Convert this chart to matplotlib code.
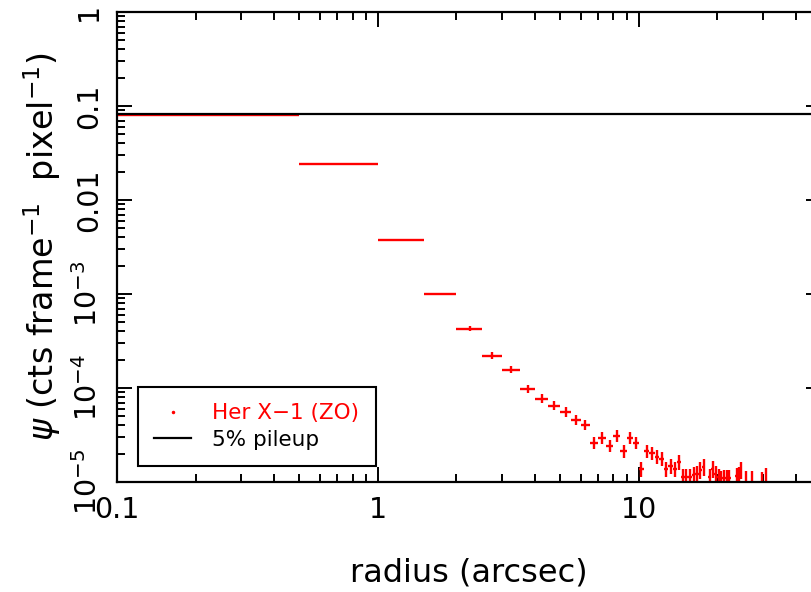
import matplotlib
matplotlib.use('Agg')
import matplotlib.pyplot as plt
import matplotlib.ticker as mticker
from matplotlib.lines import Line2D
import numpy as np

plt.rcParams['font.family'] = ['DejaVu Sans']
plt.rcParams['mathtext.fontset'] = 'dejavusans'

# radial profile of Her X-1 zeroth order, 0.5" bins
radius = [0.25, 0.75, 1.25, 1.75, 2.25, 2.75, 3.25, 3.75, 4.25, 4.75,
          5.25, 5.75, 6.25, 6.75, 7.25, 7.75, 8.25, 8.75, 9.25, 9.75,
          10.25, 10.75, 11.25, 11.75, 12.25, 12.75, 13.25, 13.75, 14.25, 14.75,
          15.25, 15.75, 16.25, 16.75, 17.25, 17.75, 18.75, 19.25, 19.75, 20.25,
          20.75, 21.25, 21.75, 22.25, 23.75, 24.25, 24.75, 25.75, 27.25, 29.75,
          30.75]
radius_err = 0.25
psi = [0.080, 0.0242, 3.72e-3, 1.0e-3, 4.27e-4, 2.21e-4, 1.57e-4, 9.8e-5, 7.7e-5, 6.5e-5,
       5.6e-5, 4.6e-5, 4.07e-5, 2.62e-5, 2.96e-5, 2.43e-5, 3.1e-5, 2.15e-5, 2.96e-5, 2.62e-5,
       1.39e-5, 2.15e-5, 2.05e-5, 1.86e-5, 1.77e-5, 1.39e-5, 1.49e-5, 1.39e-5, 1.64e-5, 1.14e-5,
       1.14e-5, 1.14e-5, 1.19e-5, 1.22e-5, 1.35e-5, 1.46e-5, 1.14e-5, 1.39e-5, 1.22e-5, 1.14e-5,
       1.09e-5, 1.11e-5, 1.11e-5, 1.11e-5, 1.17e-5, 1.19e-5, 1.35e-5, 1.09e-5, 1.09e-5, 1.06e-5,
       1.17e-5]
# fractional 1-sigma errors
psi_frac_err = [0.008, 0.012, 0.025, 0.035, 0.06, 0.08, 0.09, 0.1, 0.11, 0.11,
                0.12, 0.12, 0.13, 0.15, 0.15, 0.15, 0.15, 0.16, 0.15, 0.15,
                0.18, 0.16, 0.16, 0.17, 0.17, 0.18, 0.18, 0.18, 0.18, 0.2,
                0.2, 0.2, 0.2, 0.2, 0.2, 0.2, 0.2, 0.2, 0.2, 0.2,
                0.2, 0.2, 0.2, 0.2, 0.2, 0.2, 0.2, 0.2, 0.2, 0.2,
                0.2]
pileup_level = 0.0825

psi = np.array(psi)
psi_err = psi * np.array(psi_frac_err)

fig = plt.figure(figsize=(8.12, 5.92), dpi=100)
# right spine sits just outside the picture (x = 50)
ax = fig.add_axes([117 / 812, 1 - 482 / 592, (821 - 117) / 812, (482 - 12) / 592])

ax.errorbar(radius, psi, xerr=radius_err, yerr=psi_err, fmt='none',
            ecolor='red', elinewidth=1.7, capsize=0)
ax.axhline(pileup_level, color='black', lw=1.6)

ax.set_xscale('log')
ax.set_yscale('log')
ax.set_xlim(0.1, 50)
ax.set_ylim(1e-5, 1)

ax.xaxis.set_major_locator(mticker.FixedLocator([0.1, 1, 10]))
ax.xaxis.set_major_formatter(mticker.FixedFormatter(['0.1', '1', '10']))
ax.xaxis.set_minor_locator(mticker.LogLocator(base=10, subs=np.arange(2, 10)))
ax.xaxis.set_minor_formatter(mticker.NullFormatter())

ax.yaxis.set_major_locator(mticker.FixedLocator([1e-5, 1e-4, 1e-3, 0.01, 0.1, 1]))
ax.yaxis.set_major_formatter(mticker.FixedFormatter(
    [r'$10^{-5}$', r'$10^{-4}$', r'$10^{-3}$', '0.01', '0.1', '1']))
ax.yaxis.set_minor_locator(mticker.LogLocator(base=10, subs=np.arange(2, 10)))
ax.yaxis.set_minor_formatter(mticker.NullFormatter())

ax.tick_params(which='both', direction='in', top=True, right=True, width=1.4,
               labelsize=20.5, color='black')
ax.tick_params(which='major', length=11, pad=10)
ax.tick_params(which='minor', length=5.8)
for lab in ax.get_yticklabels():
    lab.set_rotation(90)
    lab.set_va('center')
for sp in ax.spines.values():
    sp.set_linewidth(1.6)

ax.set_xlabel('radius (arcsec)', fontsize=23, labelpad=24)
ax.set_ylabel(r'$\psi$ (cts frame$^{-1}$  pixel$^{-1}$)', fontsize=24, labelpad=7)

handles = [Line2D([], [], color='red', marker='.', markersize=3, linestyle='none'),
           Line2D([], [], color='black', lw=1.6)]
leg = ax.legend(handles, ['Her X\u22121 (ZO)', '5% pileup'], loc='lower left',
                bbox_to_anchor=(0.03, 0.034), borderaxespad=0, fontsize=15.5,
                frameon=True, fancybox=False, framealpha=1, edgecolor='black',
                handlelength=1.7, handletextpad=1.0, labelspacing=0.3,
                borderpad=0.75)
leg.get_frame().set_linewidth(1.5)
leg.get_texts()[0].set_color('red')

fig.savefig('out.png', dpi=100)
